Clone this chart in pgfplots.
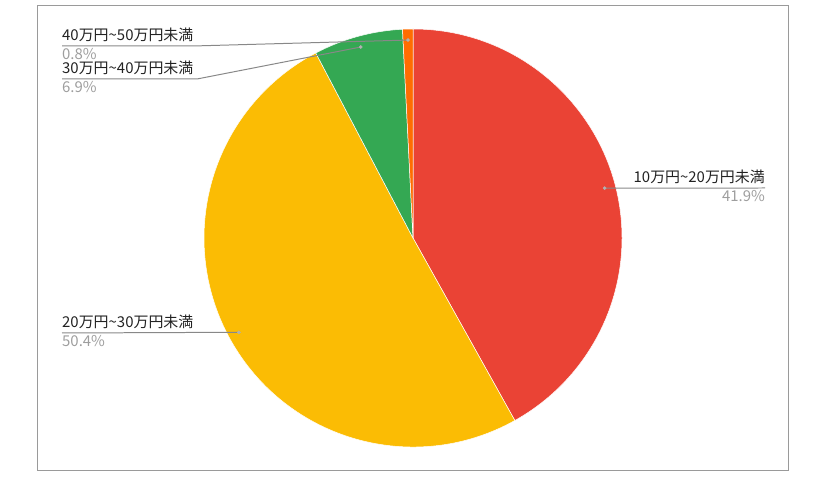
\documentclass[border=0pt]{standalone}
\usepackage{pgfplots}
\usepackage{pgfplotstable}
\pgfplotsset{compat=1.18}
\usepackage{fontspec}
\setmainfont{Noto Sans CJK JP}

\definecolor{cRed}{HTML}{EA4335}
\definecolor{cYellow}{HTML}{FBBC04}
\definecolor{cGreen}{HTML}{34A853}
\definecolor{cOrange}{HTML}{FF6D01}
\definecolor{labelgray}{HTML}{222222}
\definecolor{pctgray}{HTML}{9E9E9E}
\definecolor{linegray}{HTML}{888888}
\definecolor{framegray}{HTML}{9A9A9A}

% share (%), colour, elbow of the leader line (ex,ey), its end (ax,ay)
\pgfplotstableread{
value color   ex  ey  ax  ay
41.9  cRed    765 306 765 306
50.4  cYellow 62  161 62  161
6.9   cGreen  197 415 62  415
0.8   cOrange 193 448 62  448
}\piedata

\begin{document}
\begin{tikzpicture}
\begin{axis}[
  scale only axis, width=824bp, height=494bp,
  xmin=0, xmax=824, ymin=0, ymax=494,
  hide axis, clip=false,
]
\path (axis cs:0,0) rectangle (axis cs:824,494);
\draw[framegray, line width=0.8pt] (axis cs:37,24) rectangle (axis cs:788,489);

\def\cum{0}
\pgfplotsforeachungrouped \i in {0,...,3} {
  \pgfplotstablegetelem{\i}{value}\of\piedata \let\v\pgfplotsretval
  \pgfplotstablegetelem{\i}{color}\of\piedata \let\col\pgfplotsretval
  \pgfmathsetmacro\sa{90-3.6*\cum}
  \pgfmathsetmacro\ea{\sa-3.6*\v}
  \pgfmathsetmacro\cum{\cum+\v}
  \pgfmathsetmacro\sx{413+209*cos(\sa)}
  \pgfmathsetmacro\sy{256+209*sin(\sa)}
  \edef\tmp{\noexpand\fill[\col, draw=white, line width=0.5pt]
    (axis cs:413,256) -- (axis cs:\sx,\sy)
    arc[start angle=\sa, end angle=\ea, radius=209bp] -- cycle;}
  \tmp
}
\def\cum{0}
\pgfplotsforeachungrouped \i in {0,...,3} {
  \pgfplotstablegetelem{\i}{value}\of\piedata \let\v\pgfplotsretval
  \pgfplotstablegetelem{\i}{ex}\of\piedata \let\ex\pgfplotsretval
  \pgfplotstablegetelem{\i}{ey}\of\piedata \let\ey\pgfplotsretval
  \pgfplotstablegetelem{\i}{ax}\of\piedata \let\ax\pgfplotsretval
  \pgfplotstablegetelem{\i}{ay}\of\piedata \let\ay\pgfplotsretval
  \pgfmathsetmacro\ma{90-3.6*\cum-1.8*\v}
  \pgfmathsetmacro\cum{\cum+\v}
  \pgfmathsetmacro\mx{413+198*cos(\ma)}
  \pgfmathsetmacro\my{256+198*sin(\ma)}
  \edef\tmp{\noexpand\draw[linegray, line width=1pt]
    (axis cs:\mx,\my) -- (axis cs:\ex,\ey) -- (axis cs:\ax,\ay);
    \noexpand\addplot[only marks, mark=*, mark size=1.6pt, color=pctgray!80]
    coordinates {(\mx,\my)};}
  \tmp
}

\tikzset{lab/.style={inner sep=0pt, text=labelgray, font=\fontsize{15}{18}\selectfont},
         pct/.style={inner sep=0pt, text=pctgray, font=\fontsize{15}{18}\selectfont}}
\node[lab, anchor=base east] at (axis cs:765,311) {10万円\textasciitilde20万円未満};
\node[pct, anchor=base east] at (axis cs:765,292) {41.9\%};
\node[lab, anchor=base west] at (axis cs:62,166) {20万円\textasciitilde30万円未満};
\node[pct, anchor=base west] at (axis cs:62,147) {50.4\%};
\node[lab, anchor=base west] at (axis cs:62,420) {30万円\textasciitilde40万円未満};
\node[pct, anchor=base west] at (axis cs:62,401) {6.9\%};
\node[lab, anchor=base west] at (axis cs:62,453) {40万円\textasciitilde50万円未満};
\node[pct, anchor=base west] at (axis cs:62,434) {0.8\%};
\end{axis}
\end{tikzpicture}
\end{document}
